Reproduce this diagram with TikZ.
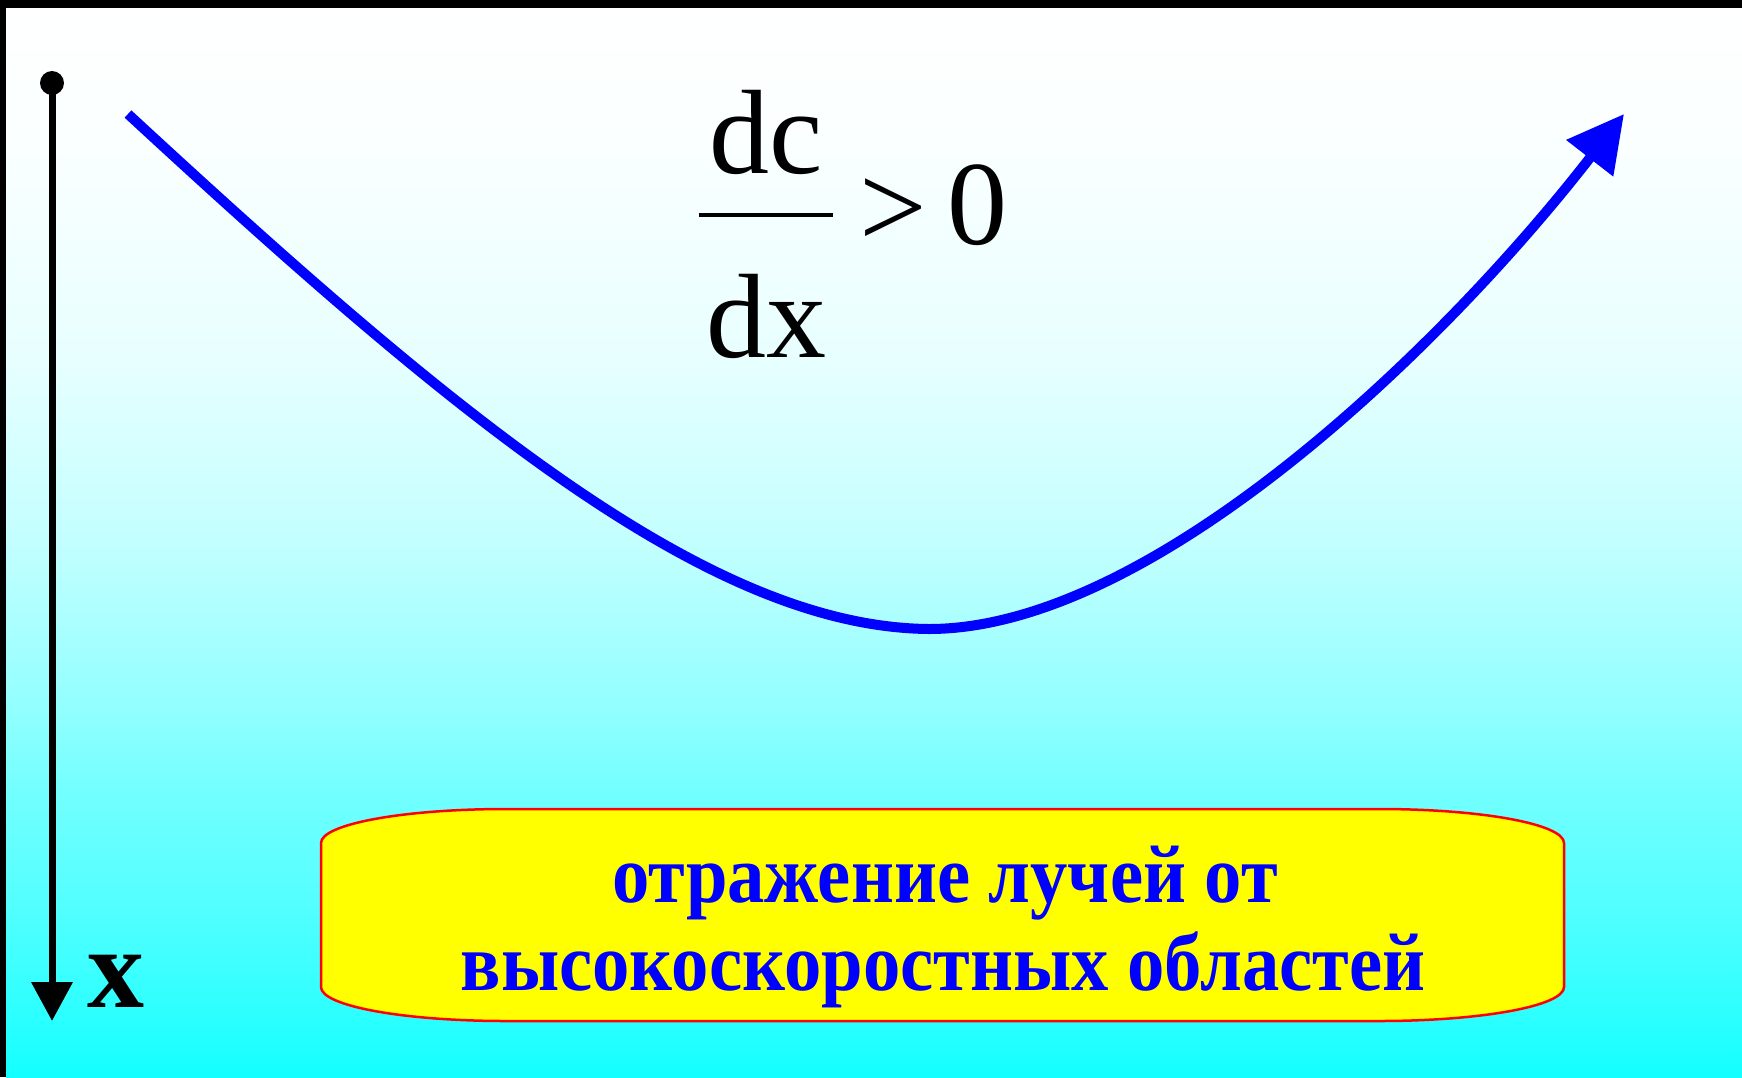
\documentclass[tikz,border=0pt]{standalone}
\usepackage{fontspec}
\setmainfont{Liberation Serif}
\newfontfamily\condensedserif[FakeStretch=0.91]{Liberation Serif}
\usetikzlibrary{arrows.meta}
\pgfdeclareverticalshading{bgshade}{100bp}{%
rgb(0bp)=(0.078,1,1);
rgb(25bp)=(0.078,1,1);
rgb(28.6bp)=(0.196,1,1);
rgb(33.3bp)=(0.333,1,1);
rgb(38.4bp)=(0.451,1,1);
rgb(42.2bp)=(0.569,1,1);
rgb(50.1bp)=(0.765,1,1);
rgb(58.8bp)=(0.91,1,1);
rgb(68.4bp)=(0.98,1,1);
rgb(75bp)=(1,1,1);
rgb(100bp)=(1,1,1)}
\definecolor{pureblue}{RGB}{0,0,255}
\definecolor{pureyellow}{RGB}{255,255,0}
\definecolor{purered}{RGB}{255,0,0}
\tikzset{
  formula/.style={inner sep=0pt, font=\fontsize{120}{140}\selectfont},
  boxtext/.style={inner sep=0pt, text=pureblue, font=\condensedserif\fontsize{82}{92}\selectfont\bfseries},
  ray/.style={draw=pureblue, line width=10pt, -{Triangle[length=56pt,width=57pt]}},
  axis/.style={draw=black, line width=7pt, -{Triangle[length=39pt,width=40pt]}},
  notebox/.style={draw=purered, line width=2.5pt, fill=pureyellow}
}
\begin{document}
\begin{tikzpicture}[x=1pt,y=-1pt]
\useasboundingbox (0,0) rectangle (1742,1077);
% frame and background
\fill[black] (0,0) rectangle (1742,1077);
\shade[shading=bgshade] (6,8) rectangle (1742,1077);
% depth axis
\coordinate (axtop) at (52,83);
\coordinate (axend) at (52,1021);
\draw[axis] (axtop) -- (axend);
\fill[black] (axtop) circle[radius=12];
\node[inner sep=0pt, anchor=base, font=\fontsize{114}{130}\selectfont\bfseries] (xlab) at (116,1007) {x};
% ray
\coordinate (raystart) at (128,114);
\coordinate (raylow) at (929,629);
\coordinate (raytip) at (1624,114);
\draw[ray] (raystart) .. controls (458,419) and (710,627) .. (raylow)
  .. controls (1150,629) and (1440,351) .. (raytip);
% formula
\node[formula, anchor=base] (num) at (766,173) {dc};
\node[formula, anchor=base] (den) at (766,357) {dx};
\draw[line width=4pt] (699,215) -- (833,215);
\node[formula, anchor=base] (gt) at (893.5,247) {>};
\node[formula, anchor=base] (zero) at (977,244) {0};
% note box
\path[notebox] (506,809) -- (1379,809)
  .. controls (1481,809) and (1564,824) .. (1564,843)
  -- (1564,987)
  .. controls (1564,1006) and (1481,1021) .. (1379,1021)
  -- (506,1021)
  .. controls (404,1021) and (321,1006) .. (321,987)
  -- (321,843)
  .. controls (321,824) and (404,809) .. (506,809) -- cycle;
\node[boxtext, anchor=base] (l1) at (945,902) {отражение лучей от};
\node[boxtext, anchor=base] (l2) at (943,990) {высокоскоростных областей};
\end{tikzpicture}
\end{document}
